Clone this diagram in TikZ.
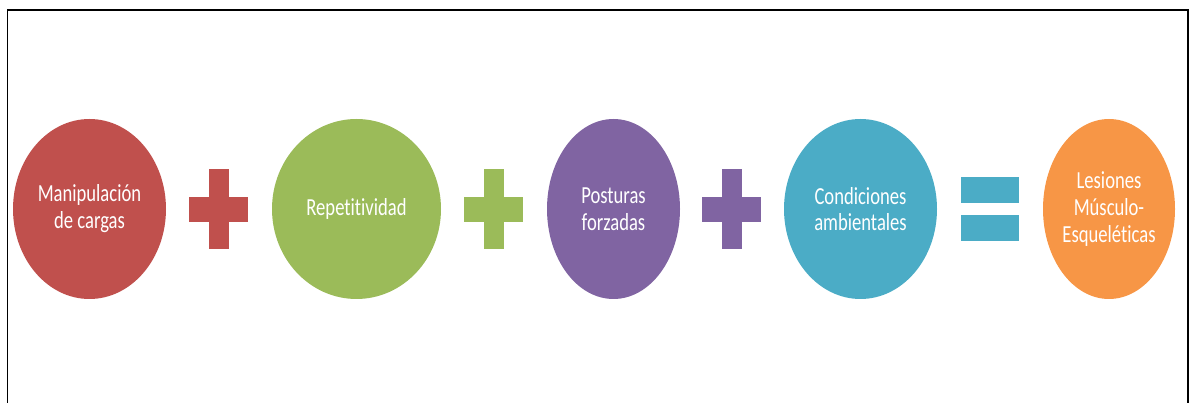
\documentclass[tikz,border=0pt]{standalone}
\usepackage{fontspec}
\setmainfont[FakeStretch=0.76, Ligatures=NoCommon]{Carlito}
\usetikzlibrary{shapes.geometric}
\definecolor{cred}{HTML}{C0504D}
\definecolor{cgreen}{HTML}{9BBB59}
\definecolor{cpurple}{HTML}{8064A2}
\definecolor{cteal}{HTML}{4BACC6}
\definecolor{corange}{HTML}{F79646}
\tikzset{
  blob/.style={ellipse, draw=none, inner sep=0pt, minimum height=180pt, text=white,
    align=center, font=\fontsize{24.5}{26.8}\selectfont},
  plusbar/.style={rectangle, inner sep=0pt, draw=none},
}
\begin{document}
\begin{tikzpicture}[x=1pt,y=-1pt]
\useasboundingbox (0,0) rectangle (1189,403);
% frame
\draw[line width=1.6pt] (7.5,403) -- (7.5,10) -- (1188,10) -- (1188,403);
% circles
\node[blob, fill=cred, minimum width=153pt] (c1) at (89.5,209) {Manipulación\\de cargas};
\node[blob, fill=cgreen, minimum width=169pt] (c2) at (356.5,209) {Repetitividad};
\node[blob, fill=cpurple, minimum width=133pt] (c3) at (613.5,209) {Posturas\\forzadas};
\node[blob, fill=cteal, minimum width=153pt] (c4) at (860.5,209) {Condiciones\\ambientales};
\node[blob, fill=corange, minimum width=132pt] (c5) at (1109,209) {Lesiones\\Músculo-\\Esqueléticas};
% plus signs
\foreach \cx/\col/\nm in {218.5/cred/p1, 493.5/cgreen/p2, 731.5/cpurple/p3}{
  \node[plusbar, fill=\col, minimum width=59pt, minimum height=25pt] (\nm h) at (\cx,209.5) {};
  \node[plusbar, fill=\col, minimum width=20pt, minimum height=80pt] (\nm v) at (\cx,209) {};
}
% equals sign
\node[plusbar, fill=cteal, minimum width=58pt, minimum height=26pt] (eqtop) at (990,190) {};
\node[plusbar, fill=cteal, minimum width=58pt, minimum height=26pt] (eqbot) at (990,228.5) {};
\end{tikzpicture}
\end{document}
